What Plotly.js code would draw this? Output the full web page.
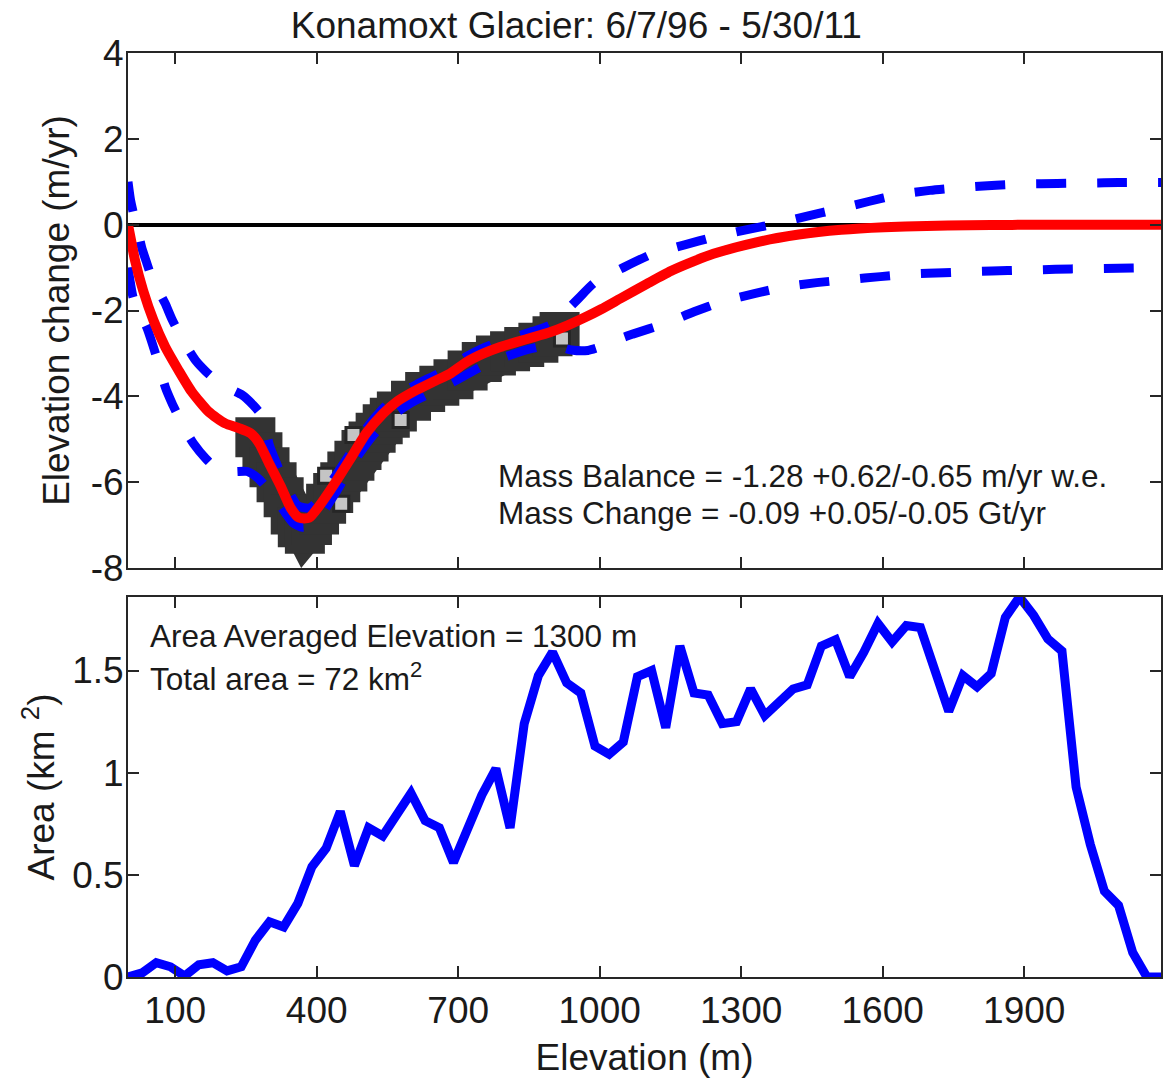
<!DOCTYPE html>
<html>
<head>
<meta charset="utf-8">
<script src="https://cdn.plot.ly/plotly-3.0.1.min.js"></script>
<style>
  html, body { margin: 0; padding: 0; background: #ffffff; }
  #chart { width: 1169px; height: 1084px; }
</style>
</head>
<body>
<div id="chart"></div>
<script>
// ---------------- DATA ----------------
const chartTitle = 'Konamoxt Glacier: 6/7/96 - 5/30/11';

// Area-altitude distribution (30 m bins)
const areaElev = [0,30,60,90,120,150,180,210,240,270,300,330,360,390,420,450,480,510,540,570,
  600,630,660,690,720,750,780,810,840,870,900,930,960,990,1020,1050,1080,1110,1140,1170,
  1200,1230,1260,1290,1320,1350,1380,1410,1440,1470,1500,1530,1560,1590,1620,1650,1680,1710,
  1740,1770,1800,1830,1860,1890,1920,1950,1980,2010,2040,2070,2100,2130,2160,2190];
const areaVals = [0.0,0.02,0.07,0.05,0.005,0.06,0.07,0.03,0.05,0.18,0.27,0.245,0.36,0.54,0.63,0.81,0.545,0.73,0.69,0.79,
  0.90,0.765,0.73,0.56,0.72,0.89,1.02,0.73,1.24,1.475,1.59,1.44,1.39,1.13,1.09,1.15,1.47,1.50,1.22,1.62,
  1.39,1.38,1.24,1.25,1.41,1.28,1.345,1.41,1.43,1.62,1.65,1.47,1.59,1.73,1.64,1.72,1.71,1.50,
  1.30,1.475,1.42,1.485,1.76,1.86,1.77,1.655,1.595,0.93,0.65,0.42,0.35,0.12,0.0,0.0];

// Fitted elevation-change curve (red)
const fitElev = [0,8,15,32,54,79,107,135,171,206,235,260,278,299,324,345,363,384,405,434,470,505,541,569,
  612,647,683,718,754,789,825,860,896,931,967,1003,1044,1100,1151,1200,1241,1332,1422,1512,1603,1693,1783,1874,2000,2190];
const fitVals = [0,-0.45,-0.84,-1.53,-2.23,-2.85,-3.39,-3.89,-4.36,-4.63,-4.74,-4.86,-5.09,-5.56,-6.10,-6.60,-6.83,-6.83,-6.56,-6.10,-5.48,-4.86,-4.40,-4.13,
  -3.85,-3.66,-3.47,-3.20,-3.00,-2.85,-2.73,-2.62,-2.50,-2.35,-2.17,-1.97,-1.72,-1.38,-1.08,-0.85,-0.68,-0.41,-0.23,-0.12,-0.06,-0.03,-0.015,-0.005,0,0];

// Upper uncertainty bound (blue dashed)
const upElev = [0,5,11,20,29,40,50,65,79,93,107,125,143,165,186,215,242,265,285,300,320,340,360,385,405,434,470,505,541,569,
  612,647,683,718,754,789,825,860,896,925,955,988,1050,1112,1180,1241,1310,1372,1440,1503,1570,1634,1700,1770,1840,1902,1970,2038,2100,2190];
const upVals = [1.0,0.6,0.29,-0.1,-0.53,-0.9,-1.22,-1.55,-1.84,-2.2,-2.5,-2.85,-3.16,-3.42,-3.62,-3.82,-3.97,-4.2,-4.47,-5.15,-5.7,-6.2,-6.55,-6.6,-6.4,-5.95,-5.35,-4.75,-4.28,-4.0,
  -3.72,-3.53,-3.33,-3.07,-2.87,-2.72,-2.6,-2.48,-2.33,-2.05,-1.72,-1.36,-1.0,-0.68,-0.47,-0.29,-0.12,0.02,0.2,0.36,0.54,0.70,0.8,0.87,0.92,0.95,0.96,0.97,0.98,0.98];

// Lower uncertainty bound (blue dashed)
const loElev = [0,5,11,25,40,61,79,93,107,125,139,165,185,220,253,275,292,320,350,370,390,410,440,480,520,560,600,650,700,750,
  800,850,900,940,975,1008,1042,1070,1137,1200,1264,1330,1397,1460,1528,1595,1661,1730,1797,1865,1932,2000,2068,2130,2190];
const loVals = [-1.0,-1.35,-1.7,-2.05,-2.4,-3.1,-3.78,-4.15,-4.47,-4.85,-5.1,-5.45,-5.65,-5.75,-5.75,-5.9,-6.1,-6.5,-6.95,-7.05,-7.0,-6.75,-6.25,-5.5,-4.9,-4.45,-4.15,-3.88,-3.6,-3.3,
  -3.08,-2.9,-2.8,-2.92,-2.93,-2.82,-2.66,-2.55,-2.31,-2.03,-1.78,-1.6,-1.44,-1.35,-1.28,-1.21,-1.15,-1.12,-1.09,-1.07,-1.05,-1.03,-1.02,-1.01,-1.0];

// Measured elevation change (dark band)
const obsElev = [270,285,300,315,330,345,360,375,390,405,420,435,450,465,480,495,510,525,540,555,570,
  600,630,660,690,720,750,780,810,840,870,900,915];
const obsVals = [-4.95,-5.3,-5.65,-6.0,-6.35,-6.75,-7.05,-7.2,-7.0,-6.75,-6.5,-6.25,-6.0,-5.75,-5.5,-5.25,-5.05,-4.85,-4.65,-4.5,-4.35,
  -4.1,-3.9,-3.75,-3.6,-3.4,-3.2,-3.05,-2.95,-2.85,-2.75,-2.6,-2.5];

// Lighter measured points visible within the band
const grayElev = [420,452,478,578,920];
const grayVals = [-5.85,-6.5,-4.9,-4.55,-2.65];

// Axis ticks
const xTickVals = [100,400,700,1000,1300,1600,1900];
const xTickText = ['100','400','700','1000','1300','1600','1900'];
const y1TickVals = [-8,-6,-4,-2,0,2,4];
const y1TickText = ['-8','-6','-4','-2','0','2','4'];
const y2TickVals = [0,0.5,1,1.5];
const y2TickText = ['0','0.5','1','1.5'];

// Annotation texts
const massBalanceText = 'Mass Balance = -1.28 +0.62/-0.65 m/yr w.e.';
const massChangeText = 'Mass Change = -0.09 +0.05/-0.05 Gt/yr';
const avgElevText = 'Area Averaged Elevation = 1300 m';
const totalAreaText = 'Total area = 72 km<sup>2</sup>';

// ---------------- STYLE ----------------
const FONT = 'Liberation Sans, Arial, Helvetica, sans-serif';
const INK = '#1a1a1a';
const AX = '#262626';

const traces = [
  { x: obsElev, y: obsVals, xaxis: 'x2', yaxis: 'y2', mode: 'lines',
    line: { color: '#333333', width: 38 }, hoverinfo: 'skip' },
  { x: obsElev, y: obsVals, xaxis: 'x2', yaxis: 'y2', mode: 'markers',
    marker: { symbol: 'square', size: 40, color: '#333333', line: { width: 0 } }, hoverinfo: 'skip' },
  { x: grayElev, y: grayVals, xaxis: 'x2', yaxis: 'y2', mode: 'markers',
    marker: { symbol: 'square', size: 15, color: '#c4c4c4', line: { color: '#262626', width: 3 } }, hoverinfo: 'skip' },
  { x: upElev, y: upVals, xaxis: 'x2', yaxis: 'y2', mode: 'lines',
    line: { color: '#0000ff', width: 9, dash: '30px,31px', shape: 'spline', smoothing: 0.6 } },
  { x: loElev, y: loVals, xaxis: 'x2', yaxis: 'y2', mode: 'lines',
    line: { color: '#0000ff', width: 9, dash: '30px,31px', shape: 'spline', smoothing: 0.6 } },
  { x: fitElev, y: fitVals, xaxis: 'x2', yaxis: 'y2', mode: 'lines',
    line: { color: '#ff0000', width: 10, shape: 'spline', smoothing: 0.6 } },
  { x: areaElev, y: areaVals, xaxis: 'x', yaxis: 'y', mode: 'lines',
    line: { color: '#0000ff', width: 9 } }
];

const axisBase = {
  showline: true, linecolor: AX, linewidth: 2, mirror: 'ticks',
  ticks: 'inside', ticklen: 11, tickwidth: 2, tickcolor: AX,
  showgrid: false, zeroline: false, automargin: false,
  tickfont: { family: FONT, size: 37, color: INK }
};

const layout = {
  width: 1169, height: 1084,
  paper_bgcolor: '#ffffff', plot_bgcolor: '#ffffff',
  margin: { l: 128, r: 8, t: 53, b: 107 },
  showlegend: false, hovermode: false,
  font: { family: FONT, color: INK },
  title: { text: chartTitle, font: { family: FONT, size: 37, color: INK },
           x: 0.493, xanchor: 'center', xref: 'container', y: 0.977, yanchor: 'middle', yref: 'container' },
  xaxis: Object.assign({}, axisBase, {
    domain: [0, 1], anchor: 'y', range: [0, 2190],
    tickmode: 'array', tickvals: xTickVals, ticktext: xTickText,
    title: { text: 'Elevation (m)', font: { family: FONT, size: 37, color: INK }, standoff: 14 }
  }),
  yaxis: Object.assign({}, axisBase, {
    domain: [0, 0.4113], anchor: 'x', range: [0, 1.86],
    tickmode: 'array', tickvals: y2TickVals, ticktext: y2TickText, ticklabelstandoff: -5,
    title: { text: 'Area (km <sup>2</sup>)', font: { family: FONT, size: 37, color: INK }, standoff: 6 }
  }),
  xaxis2: Object.assign({}, axisBase, {
    domain: [0, 1], anchor: 'y2', range: [0, 2190], matches: 'x',
    tickmode: 'array', tickvals: xTickVals, ticktext: xTickText, showticklabels: false
  }),
  yaxis2: Object.assign({}, axisBase, {
    domain: [0.4426, 1], anchor: 'x2', range: [-8, 4],
    tickmode: 'array', tickvals: y1TickVals, ticktext: y1TickText, ticklabelstandoff: -5,
    zeroline: true, zerolinecolor: '#000000', zerolinewidth: 4,
    title: { text: 'Elevation change (m/yr)', font: { family: FONT, size: 37, color: INK }, standoff: 10 }
  }),
  annotations: [
    { text: massBalanceText, xref: 'x2', yref: 'y2', x: 780, y: -5.85, xanchor: 'left', yanchor: 'middle',
      showarrow: false, font: { family: FONT, size: 31.5, color: INK } },
    { text: massChangeText, xref: 'x2', yref: 'y2', x: 780, y: -6.71, xanchor: 'left', yanchor: 'middle',
      showarrow: false, font: { family: FONT, size: 31.5, color: INK } },
    { text: avgElevText, xref: 'x', yref: 'y', x: 42, y: 1.667, xanchor: 'left', yanchor: 'middle',
      showarrow: false, font: { family: FONT, size: 31.5, color: INK } },
    { text: totalAreaText, xref: 'x', yref: 'y', x: 42, y: 1.47, xanchor: 'left', yanchor: 'middle',
      showarrow: false, font: { family: FONT, size: 31.5, color: INK } }
  ]
};

Plotly.newPlot('chart', traces, layout, { staticPlot: true, displayModeBar: false });
</script>
</body>
</html>
